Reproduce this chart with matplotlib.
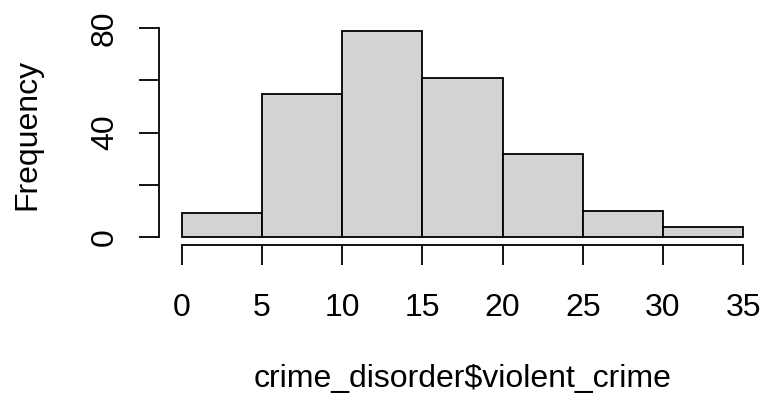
import matplotlib
matplotlib.use("Agg")
import matplotlib.pyplot as plt

# histogram of crime_disorder$violent_crime
bin_edges = [0, 5, 10, 15, 20, 25, 30, 35]
counts = [9, 55, 79, 61, 32, 10, 4]
y_ticks = [0, 20, 40, 60, 80]
y_tick_labels = ["0", "", "40", "", "80"]
x_label = "crime_disorder$violent_crime"
y_label = "Frequency"

plt.rcParams["font.family"] = ["Liberation Sans", "DejaVu Sans"]
fs = 23
lw = 1.3

W, H = 763, 395
fig = plt.figure(figsize=(W / 100.0, H / 100.0), dpi=100)
ax = fig.add_axes([159.3 / W, 1 - 245.2 / H, 606.4 / W, 222.5 / H])

ax.hist(bin_edges[:-1], bins=bin_edges, weights=counts,
        color="#d3d3d3", edgecolor="black", linewidth=lw)

# R style 4% padding around the data range
xr = bin_edges[-1] - bin_edges[0]
yr = max(counts)
ax.set_xlim(bin_edges[0] - 0.04 * xr, bin_edges[-1] + 0.04 * xr)
ax.set_ylim(-0.04 * yr, yr * 1.04)

for s in ["top", "right"]:
    ax.spines[s].set_visible(False)
ax.spines["left"].set_bounds(y_ticks[0], y_ticks[-1])
ax.spines["bottom"].set_bounds(bin_edges[0], bin_edges[-1])
ax.spines["left"].set_linewidth(lw)
ax.spines["bottom"].set_linewidth(lw)

ax.set_xticks(bin_edges)
ax.set_xticklabels([str(b) for b in bin_edges])
ax.set_yticks(y_ticks)
ax.set_yticklabels(y_tick_labels, rotation=90, va="center")

ax.tick_params(axis="both", direction="out", length=14.4, width=lw,
               labelsize=fs)
ax.tick_params(axis="x", pad=20)
ax.tick_params(axis="y", pad=14)

fig.text(462.5 / W, 1 - 387 / H, x_label, ha="center", va="baseline",
         fontsize=fs)
fig.text(27.0 / W, 1 - 134 / H, y_label, ha="center", va="center",
         rotation=90, fontsize=fs)

fig.savefig("out.png", dpi=100)
